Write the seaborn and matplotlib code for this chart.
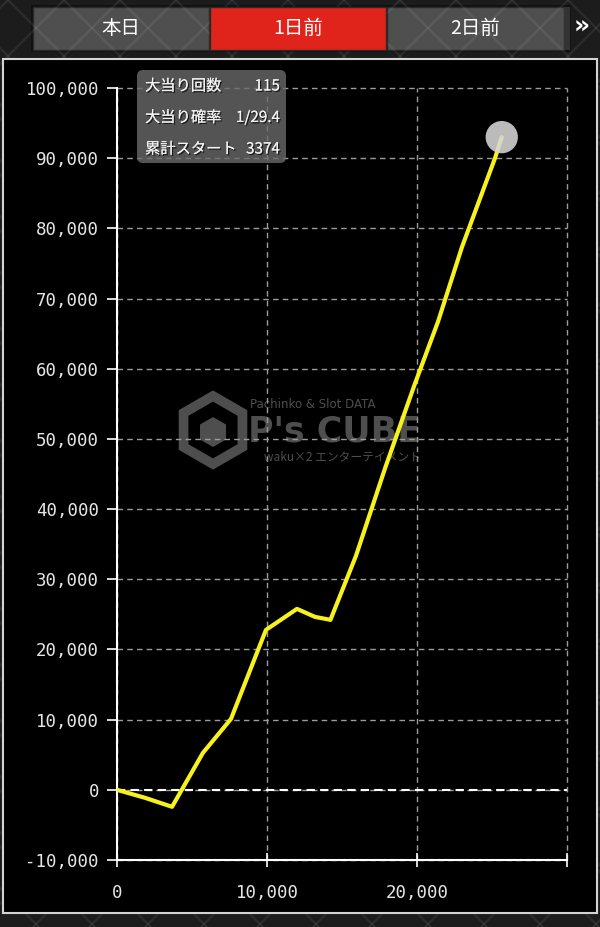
import numpy as np
import pandas as pd
import matplotlib
matplotlib.use('Agg')
import matplotlib.pyplot as plt
import seaborn as sns
from matplotlib.patches import Rectangle, FancyBboxPatch, RegularPolygon
from matplotlib.ticker import FuncFormatter, FixedLocator
import matplotlib.patheffects as pe

# ===== データ =====
start_counts = [0, 1870, 3670, 5730, 7600, 9930, 12000, 13200, 14230,
                15930, 17900, 19800, 21400, 23000, 25200, 25650]
balance = [0, -1140, -2420, 5270, 10110, 22790, 25780, 24640, 24220,
           33330, 46000, 57500, 66700, 77350, 90000, 93000]

tabs = ['本日', '1日前', '2日前']
selected_tab = '1日前'
info_labels = ['大当り回数', '大当り確率', '累計スタート']
info_values = ['115', '1/29.4', '3374']
x_ticks = [0, 10000, 20000, 30000]
x_labels = ['0', '10,000', '20,000', '']
y_ticks = [-10000, 0, 10000, 20000, 30000, 40000, 50000,
           60000, 70000, 80000, 90000, 100000]

W, H = 600, 927

sns.set_style('ticks')
plt.rcParams['font.family'] = ['Noto Sans CJK JP', 'DejaVu Sans']

fig = plt.figure(figsize=(W / 100, H / 100), dpi=100, facecolor='#1c1c1c')

# ===== 背景・タブ・パネル（ピクセル座標） =====
bg = fig.add_axes([0, 0, 1, 1], zorder=0)
bg.set_xlim(0, W)
bg.set_ylim(H, 0)
bg.axis('off')

# 菱形パターン
for k in range(-1000, 1700, 56):
    bg.plot([k, k + H], [0, H], color='white', alpha=0.07, lw=1.5, zorder=1)
    bg.plot([k, k - H], [0, H], color='white', alpha=0.07, lw=1.5, zorder=1)

bg.add_patch(Rectangle((31, 5), 540, 47, facecolor='#111111', edgecolor='none', zorder=0.2))
tab_x = [33, 210, 387]
tab_w = [176, 176, 177]
for t, x0, w in zip(tabs, tab_x, tab_w):
    sel = (t == selected_tab)
    bg.add_patch(Rectangle((x0, 7), w, 43,
                           facecolor='#e1241b' if sel else '#4f4f4f',
                           edgecolor='#2a2a2a', lw=1, zorder=2 if sel else 0.5))
    bg.text(x0 + w / 2, 28.5, t, color='white', fontsize=14,
            ha='center', va='center', zorder=3)
bg.add_patch(Rectangle((564, 7), 6, 43, facecolor='#333333', edgecolor='none', zorder=2))
bg.text(582, 27, '»', color='white', fontsize=18, fontweight='bold',
        ha='center', va='center', family='DejaVu Sans', zorder=3)

# グラフパネル
bg.add_patch(Rectangle((3, 59), 594, 854, facecolor='black',
                       edgecolor='#d4d4d4', lw=1.5, zorder=2))

# ウォーターマーク
wm = '#4e4e4e'
bg.add_patch(RegularPolygon((213, 430), numVertices=6, radius=34, orientation=0,
                            facecolor='none', edgecolor=wm, lw=7, zorder=3))
bg.add_patch(RegularPolygon((213, 432), numVertices=6, radius=15, orientation=0,
                            facecolor=wm, edgecolor='none', zorder=3))
bg.text(250, 404, 'Pachinko & Slot DATA', color=wm, fontsize=8.5,
        ha='left', va='center', family='DejaVu Sans', zorder=3)
bg.text(248, 431, "P's CUBE", color=wm, fontsize=25, fontweight='bold',
        ha='left', va='center', family='DejaVu Sans', zorder=3)
bg.text(421, 457, 'waku×2 エンターテイメント', color=wm, fontsize=8.5,
        ha='right', va='center', zorder=3)

# ===== グラフ本体 =====
ax = fig.add_axes([117 / W, (H - 860) / H, 450 / W, 772 / H], zorder=1)
ax.set_facecolor('none')

df = pd.DataFrame({'start': start_counts, 'balance': balance})
sns.lineplot(data=df, x='start', y='balance', ax=ax, color='#f8f21c',
             linewidth=3, zorder=5, sort=False, estimator=None)
ax.scatter(start_counts[-1], balance[-1], s=540, color='#d6d6d6',
           alpha=0.88, edgecolors='none', zorder=6)

ax.set_xlim(0, 30000)
ax.set_ylim(-10000, 100000)
ax.set_xticks(x_ticks)
ax.set_xticklabels(x_labels)
ax.yaxis.set_major_locator(FixedLocator(y_ticks))
ax.yaxis.set_major_formatter(FuncFormatter(lambda v, p: f'{int(v):,}'))
ax.set_xlabel('')
ax.set_ylabel('')

ax.grid(True, color='#9c9c9c', linestyle=(0, (4, 3)), linewidth=1)
for gl in ax.get_xgridlines() + ax.get_ygridlines():
    gl.set_clip_on(False)
ax.axhline(0, color='white', linestyle=(0, (4, 2.5)), linewidth=1.5, zorder=2)

for side in ['top', 'right']:
    ax.spines[side].set_visible(False)
for side in ['left', 'bottom']:
    ax.spines[side].set_color('white')
    ax.spines[side].set_linewidth(1.5)
    ax.spines[side].set_zorder(4)

ax.tick_params(axis='y', direction='out', length=7, width=1.2, color='white',
               labelcolor='#e6e6e6', labelsize=12.5, pad=6)
ax.tick_params(axis='x', direction='inout', length=10, width=1.2, color='white',
               labelcolor='#e6e6e6', labelsize=12.5, pad=12)
for lbl in ax.get_xticklabels() + ax.get_yticklabels():
    lbl.set_fontfamily('DejaVu Sans Mono')

# ===== 情報ボックス =====
fg = fig.add_axes([0, 0, 1, 1], zorder=2)
fg.set_xlim(0, W)
fg.set_ylim(H, 0)
fg.axis('off')
fg.add_patch(FancyBboxPatch((143, 76), 137, 81, boxstyle='round,pad=6',
                            facecolor='#6a6a6a', edgecolor='none', alpha=0.8))
shadow = [pe.withSimplePatchShadow(offset=(1, -1), shadow_rgbFace='black', alpha=0.7),
          pe.Normal()]
for i, (lab, val) in enumerate(zip(info_labels, info_values)):
    yy = 86 + i * 31.5
    fg.text(145, yy, lab, color='#f2f2f2', fontsize=11, ha='left', va='center',
            path_effects=shadow)
    fg.text(280, yy, val, color='#f2f2f2', fontsize=11, ha='right', va='center',
            path_effects=shadow)

fig.savefig('out.png', dpi=100, facecolor=fig.get_facecolor())
